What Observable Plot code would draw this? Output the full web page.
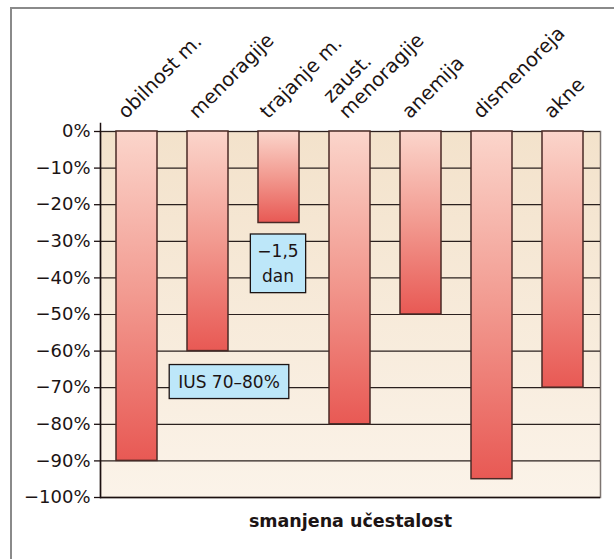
<!DOCTYPE html>
<html>
<head>
<meta charset="utf-8">
<script src="https://cdn.jsdelivr.net/npm/d3@7"></script>
<script src="https://cdn.jsdelivr.net/npm/@observablehq/plot@0.6"></script>
<style>
  html, body { margin: 0; padding: 0; background: #ffffff; }
  #wrap { position: relative; width: 614px; height: 559px; overflow: hidden; }
  #border { position: absolute; left: 10px; top: 7px; width: 700px; height: 700px;
            border-left: 2px solid #8a8a8a; border-top: 2px solid #8a8a8a; pointer-events: none; }
  #chart { position: absolute; left: 0; top: 0; }
</style>
</head>
<body>
<div id="wrap"><div id="border"></div><div id="chart"></div></div>
<script>
// ---- data ----
const categories = ["obilnost m.", "menoragije", "trajanje m.", "zaust.\nmenoragije", "anemija", "dismenoreja", "akne"];
const values = [-90, -60, -25, -80, -50, -95, -70];
const yTicks = [0, -10, -20, -30, -40, -50, -60, -70, -80, -90, -100];
const annoTexts = ["IUS 70–80%", "−1,5\ndan"];
const annoCategories = ["menoragije", "trajanje m."];
const annoValues = [-67.8, -35.5];
const xTitle = "smanjena učestalost";

const data = categories.map((c, i) => ({cat: c, value: values[i]}));
const annos = annoTexts.map((t, i) => ({text: t, cat: annoCategories[i], value: annoValues[i]}));
const fmt = d => d === 0 ? "0%" : "−" + Math.abs(d) + "%";
const ink = "#1c1414";
const labelOpts = {x: "cat", text: "cat", frameAnchor: "top", rotate: -45, textAnchor: "start", lineAnchor: "bottom", fontSize: 19.5, fill: ink, lineHeight: 1.15};

const plot = Plot.plot({
  width: 614,
  height: 559,
  marginLeft: 100,
  marginRight: 14,
  marginTop: 131,
  marginBottom: 62,
  style: {fontFamily: "DejaVu Sans, sans-serif", fontSize: "16px", background: "transparent", color: ink},
  x: {domain: categories, paddingInner: 0.42, paddingOuter: 0.2, axis: null},
  y: {domain: [-100, 0], axis: null},
  marks: [
    Plot.frame({fill: "url(#bgGrad)", stroke: "#7d7571", strokeWidth: 1.5}),
    Plot.gridY(yTicks, {stroke: "#2a201e", strokeOpacity: 1, strokeWidth: 1.2}),
    Plot.barY(data, {x: "cat", y: "value", fill: "url(#barGrad)", stroke: "#4a2a26", strokeWidth: 1.5}),
    Plot.ruleY([-100], {stroke: "#1c1010", strokeWidth: 1.5}),
    Plot.frame({anchor: "left", stroke: "#1c1010", strokeWidth: 1.5, insetTop: -8}),
    Plot.axisY(yTicks, {tickSize: 6, tickFormat: () => "", label: null, stroke: "#1c1010", strokeWidth: 1.3}),
    Plot.text(yTicks, {y: d => d, text: fmt, frameAnchor: "left", textAnchor: "end", dx: -10, fontSize: 18, fill: ink}),
    Plot.text(data, {...labelOpts, dx: -11, dy: -12, filter: d => !d.cat.includes("\n")}),
    Plot.text(data, {...labelOpts, dx: -3, dy: -12, filter: d => d.cat.includes("\n")}),
    Plot.text(annos, {x: "cat", y: "value", text: "text", dx: 21, fontSize: 17, fill: ink, lineHeight: 1.45, className: "anno",
      filter: d => d.cat === "menoragije"}),
    Plot.text(annos, {x: "cat", y: "value", text: "text", dx: -1, fontSize: 17, fill: ink, lineHeight: 1.45, className: "anno",
      filter: d => d.cat === "trajanje m."}),
    Plot.text([xTitle], {frameAnchor: "bottom", dy: 29, fontSize: 17.5, fontWeight: "bold", fill: ink})
  ]
});

// gradients
const svg = d3.select(plot);
const defs = svg.insert("defs", ":first-child");
const bg = defs.append("linearGradient").attr("id", "bgGrad").attr("x1", 0).attr("y1", 0).attr("x2", 0).attr("y2", 1);
bg.append("stop").attr("offset", "0%").attr("stop-color", "#f3e2cb");
bg.append("stop").attr("offset", "100%").attr("stop-color", "#fbf3e9");
const bar = defs.append("linearGradient").attr("id", "barGrad").attr("x1", 0).attr("y1", 0).attr("x2", 0).attr("y2", 1);
bar.append("stop").attr("offset", "0%").attr("stop-color", "#fbd5cb");
bar.append("stop").attr("offset", "50%").attr("stop-color", "#f29a90");
bar.append("stop").attr("offset", "100%").attr("stop-color", "#e85954");

document.getElementById("chart").appendChild(plot);

// annotation boxes
svg.selectAll("g.anno text").each(function() {
  const b = this.getBBox();
  const padX = b.width < 50 ? 7 : 9, padY = 7;
  d3.select(this.parentNode).insert("rect", () => this)
    .attr("transform", this.getAttribute("transform"))
    .attr("x", b.x - padX).attr("y", b.y - padY)
    .attr("width", b.width + 2 * padX).attr("height", b.height + 2 * padY)
    .attr("fill", "#bde7f9").attr("stroke", ink).attr("stroke-width", 1.3);
});
</script>
</body>
</html>
